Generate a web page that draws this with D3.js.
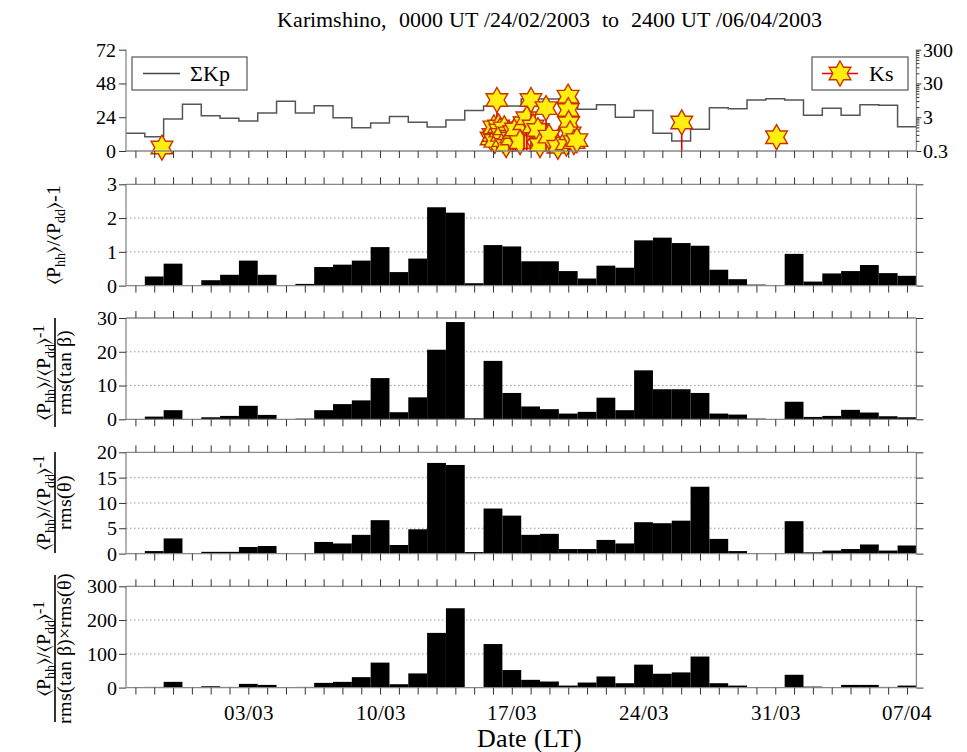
<!DOCTYPE html>
<html lang="en">
<head>
<meta charset="utf-8">
<style>
@font-face { font-family: "ChartSerif"; src: local("Liberation Serif"), local("LiberationSerif"), local("LiberationSerif-Regular"), local("Times New Roman"), local("FreeSerif"); }
body { margin: 0; background: #fff; }
svg text { font-family: "ChartSerif", "Liberation Serif", "Times New Roman", Tinos, FreeSerif; }
</style>
<script src="https://cdnjs.cloudflare.com/ajax/libs/d3/7.8.5/d3.min.js"></script>
</head>
<body>
<div id="chart"></div>
<script>
// ---- data (one value per UT day, 24/02 .. 06/04/2003) ----
var kpSum = [12.6, 10.2, 22.7, 33.2, 25.1, 23.2, 21.3, 27, 35.3, 27,
             32.2, 23.7, 16.6, 19.9, 24.6, 20.4, 17.1, 22, 28.7, 32,
             32, 37, 37, 36, 29.6, 32.9, 23.9, 28.7, 12.6, 7.1,
             15.4, 30.8, 30.1, 36.3, 37.2, 36.3, 25.4, 30.3, 25.4, 32.9,
             32.5, 17.3];

var ratio = [0, 0.27, 0.65, 0, 0.16, 0.32, 0.74, 0.32, 0, 0.05,
             0.55, 0.62, 0.74, 1.14, 0.40, 0.80, 2.32, 2.16, 0.07, 1.20,
             1.16, 0.72, 0.72, 0.43, 0.21, 0.59, 0.53, 1.34, 1.42, 1.26,
             1.18, 0.47, 0.19, 0.03, 0, 0.94, 0.12, 0.36, 0.43, 0.61,
             0.37, 0.29];

var ratioTan = [0, 0.8, 2.7, 0, 0.6, 1.0, 4.0, 1.3, 0, 0.2,
                2.7, 4.5, 5.6, 12.2, 2.1, 6.5, 20.6, 28.8, 0.3, 17.3,
                7.8, 3.8, 3.0, 1.7, 2.2, 6.4, 2.7, 14.5, 8.9, 8.9,
                7.8, 1.7, 1.4, 0.2, 0, 5.2, 0.7, 1.0, 2.8, 2.0,
                0.9, 0.6];

var ratioTheta = [0, 0.5, 3.0, 0, 0.35, 0.35, 1.3, 1.5, 0, 0.1,
                  2.3, 2.0, 3.7, 6.6, 1.7, 4.8, 17.9, 17.5, 0.3, 8.9,
                  7.5, 3.7, 3.9, 0.9, 0.9, 2.7, 2.0, 6.2, 6.0, 6.5,
                  13.2, 2.9, 0.5, 0.1, 0, 6.4, 0.25, 0.6, 0.9, 1.8,
                  0.6, 1.6];

var ratioBoth = [0, 2, 17, 0, 4, 2, 11, 8, 0, 2,
                 14, 17, 31, 74, 10, 42, 162, 235, 1, 129,
                 52, 23, 18, 6, 15, 33, 13, 68, 41, 45,
                 92, 13, 6, 1, 0, 38, 3, 1, 8, 8,
                 2, 6];

// Ks events: time in days after 24/02 12:00 LT, and Ks value
var ksDay = [1.91, 19.4, 19.5, 19.55, 19.6, 19.71, 19.8, 19.87, 19.95, 20.03,
             20.1, 20.2, 20.35, 20.45, 20.5, 20.6, 20.7, 20.94, 21.15, 21.3,
             21.52, 21.63, 21.89, 22.0, 22.32, 22.48, 22.95, 23.4, 23.49, 23.5,
             23.52, 23.6, 23.8, 23.96, 29.53, 34.57];
var ksVal = [0.38, 0.7, 0.89, 1.5, 0.6, 9.7, 1.6, 1.2, 0.9, 0.63,
             1.4, 0.45, 1.0, 0.8, 0.7, 1.1, 1.3, 0.55, 2.0, 2.8,
             9.7, 1.6, 1.25, 0.45, 5.6, 0.8, 0.40, 0.5, 12.2, 4.9,
             2.0, 1.0, 0.55, 0.63, 2.1, 0.77];

var kpTicks = [0, 24, 48, 72];
var ksTicks = [0.3, 3, 30, 300];
var panelTicks = [[0, 1, 2, 3], [0, 10, 20, 30], [0, 5, 10, 15, 20], [0, 100, 200, 300]];
var dateLabels = ["2003-03-03", "2003-03-10", "2003-03-17", "2003-03-24", "2003-03-31", "2003-04-07"];

// ---- layout ----
var w = 967, h = 752;
var left = 126, right = 916.4;
var tops = [49.7, 184.3, 318, 452.3, 586.3];
var ph = 101.3;
var axisGrey = "#888";

var svg = d3.select("#chart").append("svg")
    .attr("width", w).attr("height", h);

var parseT = d3.utcParse("%Y-%m-%d %H");
var start = parseT("2003-02-24 12");
var end = d3.utcDay.offset(start, kpSum.length);
var x = d3.scaleUtc().domain([start, end]).range([left, right]);

function dayStart(i) { return d3.utcDay.offset(start, i); }

function styleAxis(g) {
    g.attr("font-family", null);
    g.select(".domain").remove();
    g.selectAll(".tick line").attr("stroke", "#333").attr("stroke-width", 1);
    g.selectAll(".tick text").attr("font-size", 20).attr("fill", "#000");
}

function frameLine(x1, y1, x2, y2) {
    svg.append("line").attr("x1", x1).attr("y1", y1).attr("x2", x2).attr("y2", y2)
        .attr("stroke", axisGrey).attr("stroke-width", 1.3);
}

// title
svg.append("text")
    .attr("x", 549).attr("y", 27)
    .attr("text-anchor", "middle")
    .attr("font-size", 22)
    .attr("xml:space", "preserve")
    .text("Karimshino,  0000 UT /24/02/2003  to  2400 UT /06/04/2003");

//---------------- top panel: sum Kp and Ks ----------------
var t0 = tops[0];
var yKp = d3.scaleLinear().domain([0, 72]).range([t0 + ph, t0]);
var yKs = d3.scaleLog().domain([0.3, 300]).range([t0 + ph, t0]);

var kpPts = kpSum.map(function (v, i) { return [dayStart(i), v]; });
kpPts.push([end, kpSum[kpSum.length - 1]]);

svg.append("path")
    .datum(kpPts)
    .attr("fill", "none")
    .attr("stroke", "#555")
    .attr("stroke-width", 1.5)
    .attr("d", d3.line()
        .x(function (d) { return x(d[0]); })
        .y(function (d) { return yKp(d[1]); })
        .curve(d3.curveStepAfter));

// six-pointed star symbol
var hexagram = {
    draw: function (ctx, size) {
        var R = Math.sqrt(size), r = R / Math.sqrt(3);
        for (var k = 0; k < 12; k++) {
            var a = -Math.PI / 2 + k * Math.PI / 6;
            var rad = (k % 2 === 0) ? R : r;
            if (k === 0) ctx.moveTo(rad * Math.cos(a), rad * Math.sin(a));
            else ctx.lineTo(rad * Math.cos(a), rad * Math.sin(a));
        }
        ctx.closePath();
    }
};
var star = d3.symbol().type(hexagram).size(12.5 * 12.5);

var ksData = ksDay.map(function (d, i) {
    return { t: new Date(start.getTime() + d * 864e5), v: ksVal[i] };
});

var ev = svg.selectAll(".ks").data(ksData).enter().append("g").attr("class", "ks");
ev.append("line")
    .attr("x1", function (d) { return x(d.t); })
    .attr("x2", function (d) { return x(d.t); })
    .attr("y1", function (d) { return yKs(d.v); })
    .attr("y2", yKs(0.3))
    .attr("stroke", "#e00000").attr("stroke-width", 1.6);
ev.append("path")
    .attr("d", star)
    .attr("transform", function (d) { return "translate(" + x(d.t) + "," + yKs(d.v) + ")"; })
    .attr("fill", "#ffee10")
    .attr("stroke", "#c83000")
    .attr("stroke-width", 1.4);

frameLine(left, t0, left, t0 + ph);
frameLine(right, t0, right, t0 + ph);
frameLine(left, t0 + ph, right, t0 + ph);

svg.append("g").attr("transform", "translate(" + left + ",0)")
    .call(d3.axisLeft(yKp).tickValues(kpTicks).tickSize(7).tickPadding(3).tickSizeOuter(0))
    .call(styleAxis);

var minorKs = [];
[0.3, 3, 30].forEach(function (b) { for (var k = 2; k <= 9; k++) minorKs.push(b * k); });
svg.append("g").attr("transform", "translate(" + right + ",0)")
    .call(d3.axisRight(yKs).tickValues(minorKs).tickSize(3).tickFormat("").tickSizeOuter(0))
    .call(styleAxis);
svg.append("g").attr("transform", "translate(" + right + ",0)")
    .call(d3.axisRight(yKs).tickValues(ksTicks).tickSize(5).tickPadding(2).tickFormat(d3.format("")).tickSizeOuter(0))
    .call(styleAxis);

svg.append("g").attr("transform", "translate(0," + (t0 + ph) + ")")
    .call(d3.axisBottom(x).ticks(d3.utcDay).tickSize(7).tickFormat("").tickSizeOuter(0))
    .call(styleAxis);

// legends
svg.append("rect").attr("x", 132).attr("y", 57).attr("width", 115).attr("height", 33)
    .attr("fill", "#fff").attr("stroke", "#555").attr("stroke-width", 1.2);
svg.append("line").attr("x1", 143).attr("x2", 180).attr("y1", 73.5).attr("y2", 73.5)
    .attr("stroke", "#444").attr("stroke-width", 1.3);
svg.append("text").attr("x", 190).attr("y", 81).attr("font-size", 22).text("\u03A3Kp");

svg.append("rect").attr("x", 812).attr("y", 57).attr("width", 96).attr("height", 33)
    .attr("fill", "#fff").attr("stroke", "#555").attr("stroke-width", 1.2);
svg.append("line").attr("x1", 822).attr("x2", 858).attr("y1", 73.5).attr("y2", 73.5)
    .attr("stroke", "#e00000").attr("stroke-width", 1.5);
svg.append("path").attr("d", star).attr("transform", "translate(840,73.5)")
    .attr("fill", "#ffee10").attr("stroke", "#c83000").attr("stroke-width", 1.4);
svg.append("text").attr("x", 869).attr("y", 81).attr("font-size", 22).text("Ks");

//---------------- bar panels ----------------
var series = [ratio, ratioTan, ratioTheta, ratioBoth];

series.forEach(function (data, p) {
    var top = tops[p + 1];
    var ticks = panelTicks[p];
    var maxV = ticks[ticks.length - 1];
    var y = d3.scaleLinear().domain([0, maxV]).range([top + ph, top]);

    // dotted grid
    svg.selectAll(".grid" + p)
        .data(ticks.filter(function (t) { return t > 0 && t < maxV; }))
        .enter().append("line")
        .attr("x1", left).attr("x2", right)
        .attr("y1", function (d) { return y(d); })
        .attr("y2", function (d) { return y(d); })
        .attr("stroke", "#999").attr("stroke-width", 1)
        .attr("stroke-dasharray", "1.5,2.5");

    svg.selectAll(".bar" + p)
        .data(data)
        .enter().append("rect")
        .attr("x", function (d, i) { return x(dayStart(i)); })
        .attr("width", function (d, i) { return x(dayStart(i + 1)) - x(dayStart(i)); })
        .attr("y", function (d) { return y(d); })
        .attr("height", function (d) { return y(0) - y(d); })
        .attr("fill", "#000");

    frameLine(left, top, right, top);
    frameLine(left, top, left, top + ph);
    frameLine(right, top, right, top + ph);
    frameLine(left, top + ph, right, top + ph);

    svg.append("g").attr("transform", "translate(" + left + ",0)")
        .call(d3.axisLeft(y).tickValues(ticks).tickSize(7).tickPadding(2)
            .tickFormat(d3.format("d")).tickSizeOuter(0))
        .call(styleAxis);
    svg.append("g").attr("transform", "translate(" + right + ",0)")
        .call(d3.axisRight(y).tickValues(ticks).tickSize(7).tickFormat("").tickSizeOuter(0))
        .call(styleAxis);
    svg.append("g").attr("transform", "translate(0," + top + ")")
        .call(d3.axisTop(x).ticks(d3.utcDay).tickSize(7).tickFormat("").tickSizeOuter(0))
        .call(styleAxis);
    svg.append("g").attr("transform", "translate(0," + (top + ph) + ")")
        .call(d3.axisBottom(x).ticks(d3.utcDay).tickSize(7).tickFormat("").tickSizeOuter(0))
        .call(styleAxis);
});

// date labels on bottom panel
var parseD = d3.utcParse("%Y-%m-%d");
svg.append("g").attr("transform", "translate(0," + (tops[4] + ph) + ")")
    .call(d3.axisBottom(x).tickValues(dateLabels.map(parseD)).tickSize(0).tickPadding(17)
        .tickFormat(d3.utcFormat("%d/%m")))
    .call(styleAxis)
    .selectAll(".tick text").attr("font-size", 21);

svg.append("text").attr("x", 529).attr("y", 747).attr("text-anchor", "middle")
    .attr("font-size", 26).text("Date (LT)");

//---------------- y labels ----------------
function ratioText(bx, cy, raisedOne) {
    var t = svg.append("text")
        .attr("transform", "translate(" + bx + "," + cy + ") rotate(-90)")
        .attr("text-anchor", "middle")
        .attr("font-size", 20);
    t.append("tspan").text("\u27E8P");
    t.append("tspan").attr("dy", 5).attr("font-size", 14).text("hh");
    t.append("tspan").attr("dy", -5).text("\u27E9/\u27E8P");
    t.append("tspan").attr("dy", 5).attr("font-size", 14).text("dd");
    t.append("tspan").attr("dy", -5).text("\u27E9");
    if (raisedOne) t.append("tspan").attr("dy", -6).attr("font-size", 16).text("-1");
    else t.append("tspan").text("-1");
}

ratioText(60, tops[1] + ph / 2, false);

var denoms = ["rms(tan \u03B2)", "rms(\u03B8)", "rms(tan \u03B2)\u00D7rms(\u03B8)"];
var barLen = [109, 101, 147];
var barMid = [372.5, 502.5, 648.5];
denoms.forEach(function (txt, k) {
    ratioText(50, barMid[k], true);
    svg.append("line")
        .attr("x1", 55).attr("x2", 55)
        .attr("y1", barMid[k] - barLen[k] / 2).attr("y2", barMid[k] + barLen[k] / 2)
        .attr("stroke", "#000").attr("stroke-width", 1.6);
    svg.append("text")
        .attr("transform", "translate(71," + barMid[k] + ") rotate(-90)")
        .attr("text-anchor", "middle")
        .attr("font-size", 20)
        .text(txt);
});
</script>
</body>
</html>
